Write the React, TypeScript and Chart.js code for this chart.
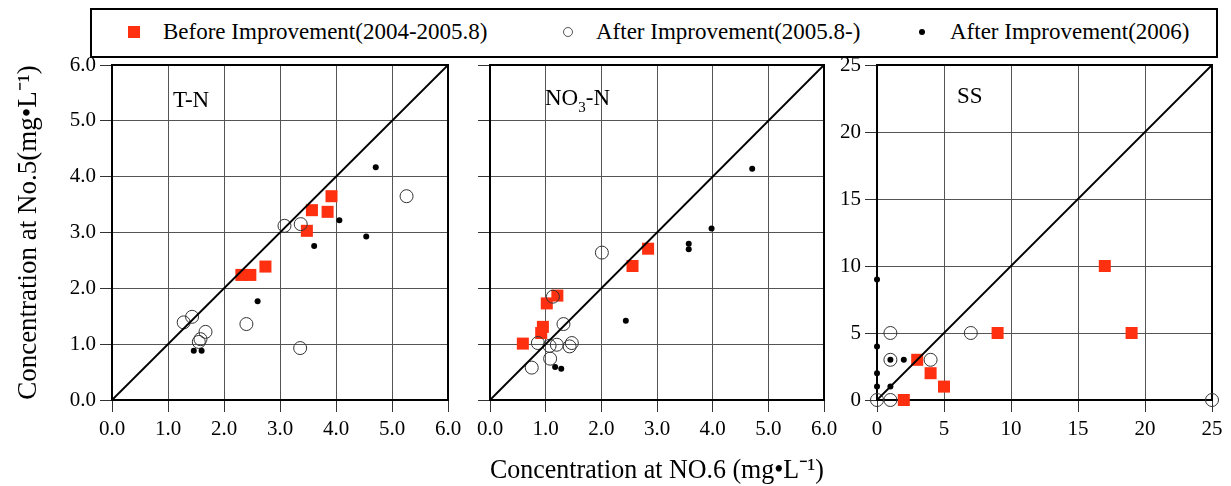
import React, { useEffect, useRef } from 'react';
import { Chart, registerables } from 'chart.js';

Chart.register(...registerables);

const FONT = "'Liberation Serif', 'Times New Roman', serif";
const RED = '#ff3010';

type Pt = [number, number];

// ---- T-N panel ----
const tnBefore: Pt[] = [[2.31, 2.24], [2.47, 2.24], [2.74, 2.39], [3.48, 3.03], [3.57, 3.40], [3.85, 3.37], [3.92, 3.65]];
const tnAfter: Pt[] = [[1.28, 1.39], [1.43, 1.49], [1.67, 1.22], [1.55, 1.04], [1.58, 1.09], [2.40, 1.36], [3.08, 3.12], [3.37, 3.15], [3.36, 0.93], [5.26, 3.65]];
const tnAfter2006: Pt[] = [[1.46, 0.88], [1.60, 0.88], [2.60, 1.77], [3.61, 2.76], [4.06, 3.22], [4.54, 2.93], [4.71, 4.17]];

// ---- NO3-N panel ----
const no3Before: Pt[] = [[0.59, 1.01], [0.92, 1.20], [0.95, 1.31], [1.02, 1.73], [1.21, 1.87], [2.56, 2.40], [2.84, 2.71]];
const no3After: Pt[] = [[0.75, 0.58], [0.86, 1.02], [1.08, 0.74], [1.07, 0.97], [1.20, 0.99], [1.32, 1.36], [1.43, 0.96], [1.47, 1.02], [1.13, 1.85], [2.01, 2.64]];
const no3After2006: Pt[] = [[1.17, 0.59], [1.28, 0.56], [2.44, 1.42], [3.57, 2.70], [3.57, 2.80], [3.98, 3.07], [4.71, 4.14]];

// ---- SS panel ----
const ssBefore: Pt[] = [[2, 0], [3, 3], [4, 2], [5, 1], [9, 5], [17, 10], [19, 5]];
const ssAfter: Pt[] = [[0, 0], [1, 0], [1, 5], [1, 3], [4, 3], [7, 5], [25, 0]];
const ssAfter2006: Pt[] = [[0, 9], [0, 4], [0, 2], [0, 1], [1, 3], [1, 1], [2, 3]];

// axis ranges
const nMax = 6;
const nStep = 1;
const ssMax = 25;
const ssStep = 5;

// texts
const legendTexts = ['Before Improvement(2004-2005.8)', 'After Improvement(2005.8-)', 'After Improvement(2006)'];
const yTitleText = 'Concentration at No.5(mg\u2022L\u207B\u00B9)';
const xTitleText = 'Concentration at NO.6 (mg\u2022L\u207B\u00B9)';
const tnLabel = [{ t: 'T-N', sub: false }];
const no3Label = [{ t: 'NO', sub: false }, { t: '3', sub: true }, { t: '-N', sub: false }];
const ssLabel = [{ t: 'SS', sub: false }];

const toXY = (a: Pt[]) => a.map(([x, y]) => ({ x, y }));

const framePlugin = {
  id: 'frame',
  beforeDatasetsDraw(chart: any) {
    const { ctx, chartArea: a } = chart;
    ctx.save();
    ctx.strokeStyle = '#000';
    ctx.lineWidth = 2;
    ctx.strokeRect(a.left, a.top, a.right - a.left, a.bottom - a.top);
    ctx.restore();
  },
  afterDraw(chart: any, _args: any, opts: any) {
    if (!opts || !opts.parts) return;
    const { ctx, chartArea: a } = chart;
    ctx.save();
    ctx.fillStyle = '#000';
    ctx.textBaseline = 'alphabetic';
    let x = a.left + opts.dx;
    const y = a.top + opts.dy;
    for (const p of opts.parts) {
      const size = p.sub ? 15 : 23;
      ctx.font = `${size}px ${FONT}`;
      ctx.fillText(p.t, x, p.sub ? y + 7 : y);
      x += ctx.measureText(p.t).width;
    }
    ctx.restore();
  },
};

interface PanelProps {
  left: number;
  width: number;
  yWidth: number;
  padRight: number;
  max: number;
  step: number;
  squares: Pt[];
  circles: Pt[];
  dots: Pt[];
  label: { t: string; sub: boolean }[];
  labelDx: number;
  labelDy: number;
  showYLabels: boolean;
  yTitle?: string;
  xTitle?: string;
  decimals: boolean;
}

function Panel(p: PanelProps) {
  const ref = useRef<HTMLCanvasElement>(null);
  useEffect(() => {
    const fmt = (v: any) => (p.decimals ? Number(v).toFixed(1) : String(v));
    const tickFont = { family: FONT, size: 21 };
    const chart = new Chart(ref.current as HTMLCanvasElement, {
      type: 'scatter',
      data: {
        datasets: [
          {
            data: [{ x: 0, y: 0 }, { x: p.max, y: p.max }],
            showLine: true,
            borderColor: '#000',
            borderWidth: 1.8,
            pointRadius: 0,
            order: 0,
            clip: false,
          } as any,
          {
            data: toXY(p.dots),
            pointStyle: 'circle',
            pointRadius: 3,
            backgroundColor: '#000',
            borderWidth: 0,
            order: 1,
            clip: false,
          },
          {
            data: toXY(p.circles),
            pointStyle: 'circle',
            pointRadius: 6.5,
            backgroundColor: 'rgba(0,0,0,0)',
            borderColor: '#333',
            borderWidth: 1,
            order: 2,
            clip: false,
          },
          {
            data: toXY(p.squares),
            pointStyle: 'rect',
            pointRadius: 8.5,
            backgroundColor: RED,
            borderWidth: 0,
            order: 3,
            clip: false,
          },
        ],
      },
      options: {
        animation: false,
        responsive: false,
        events: [],
        layout: { padding: { left: 0, top: 65, right: p.padRight, bottom: 0 } },
        plugins: {
          legend: { display: false },
          tooltip: { enabled: false },
          frame: { parts: p.label, dx: p.labelDx, dy: p.labelDy },
        } as any,
        scales: {
          x: {
            type: 'linear',
            min: 0,
            max: p.max,
            ticks: {
              stepSize: p.step,
              font: tickFont,
              color: '#000',
              padding: 5,
              maxRotation: 0,
              autoSkip: false,
              callback: fmt,
            },
            grid: { color: '#555', lineWidth: 1, tickLength: 12, tickColor: '#333', drawTicks: true },
            border: { color: '#000', width: 2 },
            title: {
              display: !!p.xTitle,
              text: p.xTitle || '',
              color: '#000',
              font: { family: FONT, size: 28, lineHeight: 1 },
              padding: { top: 0, bottom: 1 },
            },
            afterFit: (s: any) => {
              s.height = 86;
            },
          },
          y: {
            type: 'linear',
            min: 0,
            max: p.max,
            ticks: {
              display: p.showYLabels,
              stepSize: p.step,
              font: tickFont,
              color: '#000',
              padding: 4,
              autoSkip: false,
              callback: fmt,
            },
            grid: { color: '#555', lineWidth: 1, tickLength: 12, tickColor: '#333', drawTicks: true },
            border: { color: '#000', width: 2 },
            title: {
              display: !!p.yTitle,
              text: p.yTitle || '',
              color: '#000',
              font: { family: FONT, size: 27, lineHeight: 1 },
              padding: { top: 15, bottom: 0 },
            },
            afterFit: (s: any) => {
              s.width = p.yWidth;
            },
          },
        },
      },
      plugins: [framePlugin],
    } as any);
    return () => chart.destroy();
  }, []);
  return (
    <canvas
      ref={ref}
      width={p.width}
      height={486}
      style={{ position: 'absolute', left: p.left, top: 0, width: p.width, height: 486 }}
    />
  );
}

function Legend() {
  const textStyle: React.CSSProperties = {
    position: 'absolute',
    top: 20,
    height: 24,
    lineHeight: '24px',
    fontSize: 23,
    fontFamily: FONT,
    color: '#000',
    whiteSpace: 'nowrap',
  };
  return (
    <div
      style={{
        position: 'absolute',
        left: 0,
        top: 0,
        width: 1231,
        height: 60,
        zIndex: 10,
        pointerEvents: 'none',
      }}
    >
      <div
        style={{
          position: 'absolute',
          left: 90,
          top: 8,
          width: 1128,
          height: 50,
          border: '2px solid #000',
          boxSizing: 'border-box',
          background: '#fff',
        }}
      />
      <div style={{ position: 'absolute', left: 128, top: 26, width: 12, height: 12, background: RED }} />
      <div style={{ ...textStyle, left: 163 }}>{legendTexts[0]}</div>
      <div
        style={{
          position: 'absolute',
          left: 563,
          top: 27,
          width: 10,
          height: 10,
          borderRadius: '50%',
          border: '1px solid #555',
          boxSizing: 'border-box',
        }}
      />
      <div style={{ ...textStyle, left: 596 }}>{legendTexts[1]}</div>
      <div
        style={{
          position: 'absolute',
          left: 919,
          top: 29,
          width: 6,
          height: 6,
          borderRadius: '50%',
          background: '#000',
        }}
      />
      <div style={{ ...textStyle, left: 950 }}>{legendTexts[2]}</div>
    </div>
  );
}

export default function App() {
  return (
    <div
      style={{
        position: 'absolute',
        left: 0,
        top: 0,
        width: 1231,
        height: 486,
        overflow: 'hidden',
        background: '#fff',
      }}
    >
      <Panel
        left={0}
        width={470}
        yWidth={112}
        padRight={22}
        max={nMax}
        step={nStep}
        squares={tnBefore}
        circles={tnAfter}
        dots={tnAfter2006}
        label={tnLabel}
        labelDx={61}
        labelDy={42}
        showYLabels={true}
        yTitle={yTitleText}
        decimals={true}
      />
      <Panel
        left={460}
        width={386}
        yWidth={30}
        padRight={22}
        max={nMax}
        step={nStep}
        squares={no3Before}
        circles={no3After}
        dots={no3After2006}
        label={no3Label}
        labelDx={55}
        labelDy={40}
        showYLabels={false}
        xTitle={xTitleText}
        decimals={true}
      />
      <Panel
        left={830}
        width={401}
        yWidth={47}
        padRight={19}
        max={ssMax}
        step={ssStep}
        squares={ssBefore}
        circles={ssAfter}
        dots={ssAfter2006}
        label={ssLabel}
        labelDx={80}
        labelDy={38}
        showYLabels={true}
        decimals={false}
      />
      <Legend />
    </div>
  );
}
